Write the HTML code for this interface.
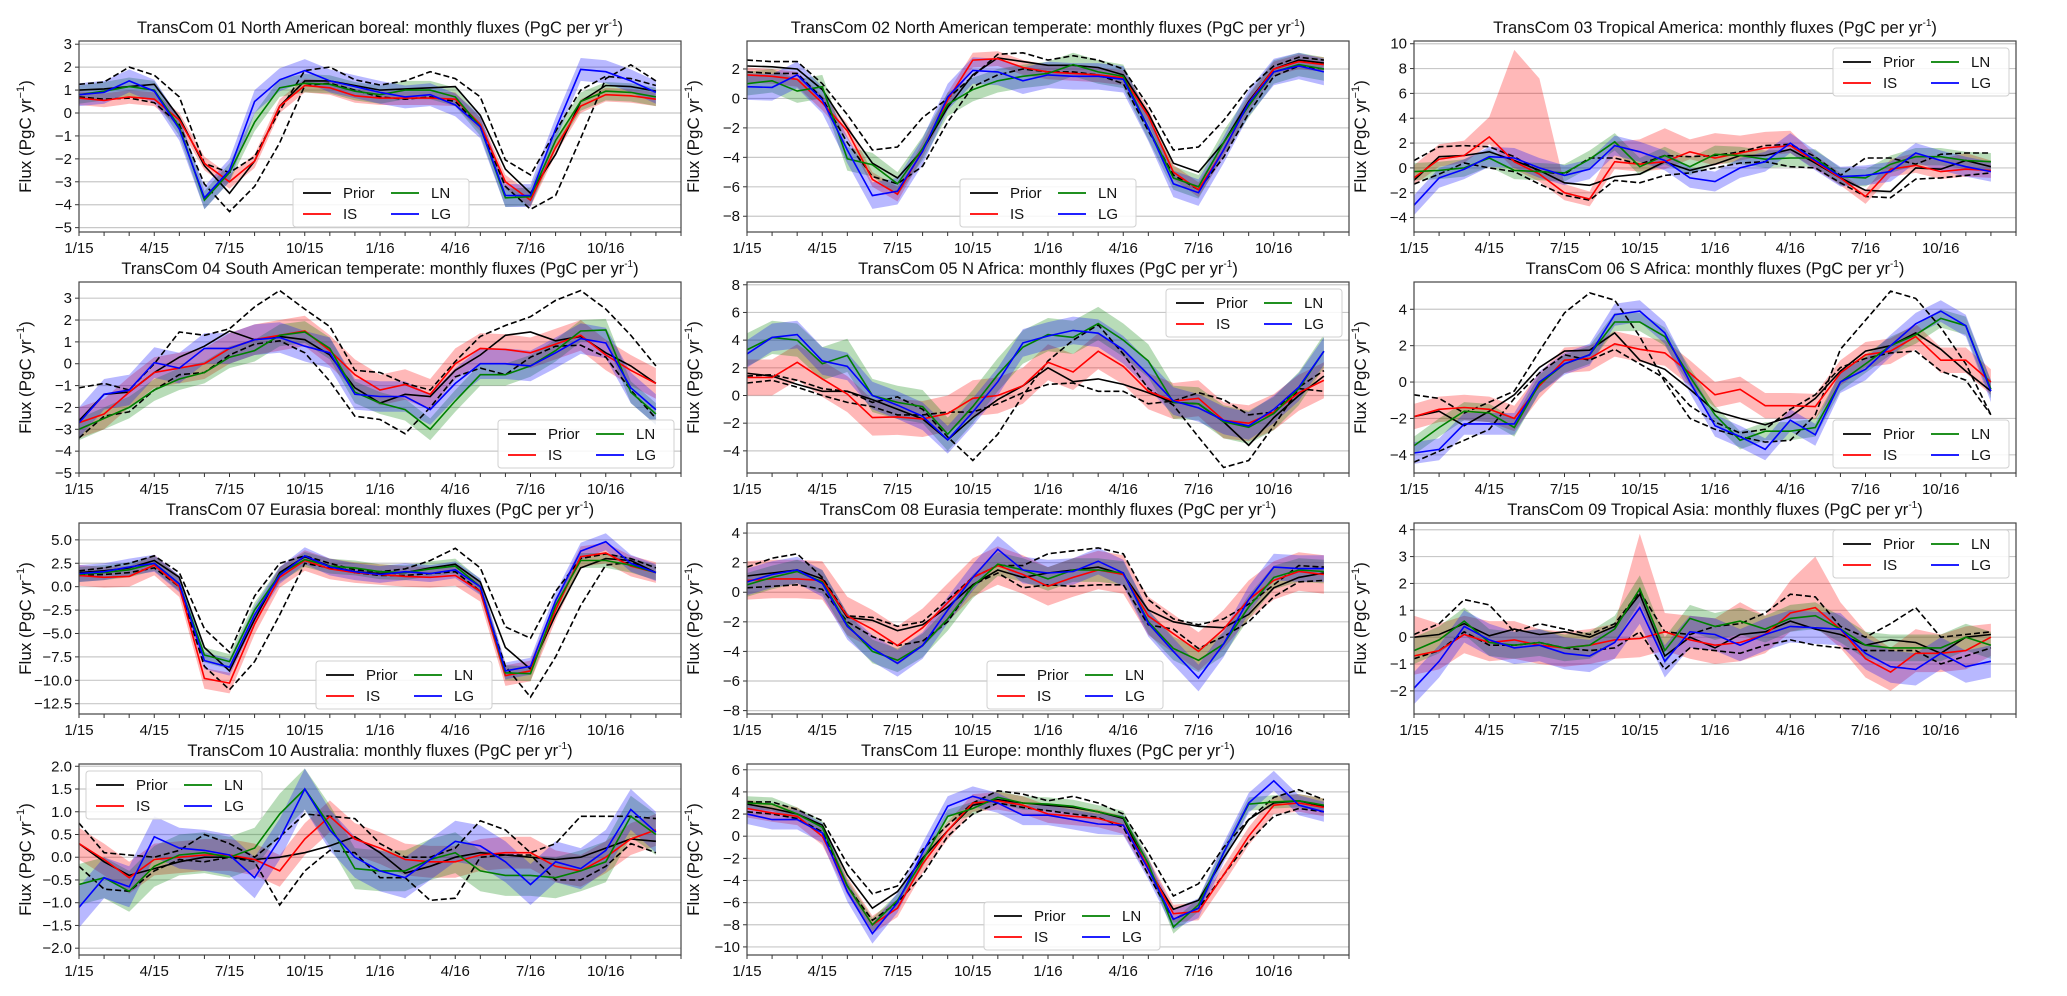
<!DOCTYPE html>
<html><head><meta charset="utf-8"><title>TransCom monthly fluxes</title>
<style>
html,body{margin:0;padding:0;background:#fff;}
svg{display:block;font-family:"Liberation Sans","DejaVu Sans",sans-serif;}
</style></head>
<body>
<svg id="fig" width="2067" height="996" viewBox="0 0 2067 996" xmlns="http://www.w3.org/2000/svg"></svg>
<script>
// ---------- shared axis data ----------
const xTickIdx = [0,3,6,9,12,15,18,21];
const xTickLabels = ['1/15','4/15','7/15','10/15','1/16','4/16','7/16','10/16'];

// ---------- P1 North American boreal ----------
const p1Prior=[1.0,1.05,1.15,1.25,-0.2,-2.3,-3.5,-2.1,0.3,1.4,1.4,1.2,1.0,1.05,1.1,1.15,-0.1,-2.45,-3.5,-1.8,0.5,1.2,1.15,0.95];
const p1DashA=[1.25,1.35,2.0,1.65,0.7,-2.2,-2.6,-1.9,0.1,1.85,2.0,1.45,1.22,1.4,1.8,1.5,0.7,-2.05,-2.7,-0.8,1.0,1.6,1.5,1.2];
const p1DashB=[0.7,0.6,0.65,0.45,-0.5,-3.1,-4.3,-3.2,-1.3,1.2,1.3,1.0,0.7,0.6,0.7,0.5,-0.6,-3.2,-4.2,-3.6,-1.1,1.5,2.1,1.4];
const p1IS=[0.65,0.55,0.7,0.6,-0.3,-2.2,-3.0,-2.1,0.3,1.2,1.1,0.75,0.65,0.65,0.65,0.6,-0.5,-3.0,-3.8,-1.5,0.3,0.8,0.75,0.6];
const p1LN=[0.8,0.95,1.15,1.0,-0.6,-3.8,-2.6,-0.4,1.1,1.3,1.25,0.95,0.8,1.0,1.0,0.7,-0.6,-3.7,-3.65,-1.2,0.5,0.95,0.9,0.7];
const p1LG=[0.8,0.9,1.4,0.95,-0.7,-3.7,-2.5,0.5,1.45,1.85,1.4,1.15,0.9,0.7,0.8,0.35,-0.6,-3.6,-3.6,-0.7,1.9,1.8,1.4,0.9];
const p1YTicks=[-5,-4,-3,-2,-1,0,1,2,3];
// ---------- P2 ----------
const p2Prior=[2.2,2.15,2.0,0.6,-2.0,-4.4,-5.4,-3.5,-0.6,1.6,2.75,2.5,2.25,2.25,2.1,1.6,-1.0,-4.4,-5.0,-3.0,-0.2,2.0,2.6,2.4];
const p2DashA=[2.6,2.5,2.5,1.0,-1.1,-3.5,-3.3,-1.3,0.0,1.5,3.0,3.1,2.6,2.9,2.6,2.0,-0.5,-3.5,-3.3,-1.5,0.7,2.2,2.8,2.6];
const p2DashB=[1.8,1.7,1.7,0.0,-3.0,-5.3,-5.8,-4.6,-1.6,0.8,1.6,2.0,1.8,1.8,1.6,1.0,-2.2,-5.2,-6.2,-4.0,-1.0,1.5,2.2,2.0];
const p2IS=[1.6,1.5,1.3,-0.3,-2.2,-5.5,-6.5,-3.5,-0.1,2.6,2.7,2.1,1.8,1.7,1.6,1.4,-1.2,-5.0,-6.2,-3.5,-0.3,2.0,2.5,2.3];
const p2LN=[1.0,1.2,0.5,0.8,-4.1,-4.5,-5.8,-3.4,-0.4,0.6,1.2,1.5,1.7,2.3,1.8,1.5,-2.0,-5.4,-6.0,-3.0,-0.5,1.8,2.3,2.0];
const p2LG=[0.8,0.75,1.6,-0.1,-3.5,-6.6,-6.3,-3.6,0.1,1.9,1.8,1.2,1.6,1.5,1.5,1.3,-2.0,-5.8,-6.4,-3.5,-0.3,1.8,2.2,1.8];
const p2YTicks=[-8,-6,-4,-2,0,2];
// ---------- P3 ----------
const p3Prior=[-1.0,0.9,1.0,1.3,0.6,-0.2,-1.2,-1.4,-0.7,-0.5,0.5,-0.2,0.3,1.0,1.0,1.5,0.4,-0.8,-1.8,-1.9,0.0,-0.1,0.6,0.1];
const p3DashA=[0.6,1.7,1.8,1.7,0.9,-0.3,-0.5,0.8,0.8,0.3,1.0,0.9,1.0,1.3,1.8,1.9,0.9,-0.6,0.8,0.8,0.3,1.1,1.2,1.2];
const p3DashB=[-1.3,-0.5,0.4,0.0,-0.3,-1.3,-2.2,-2.6,-1.0,-1.2,-0.6,-0.4,0.0,0.4,0.5,0.1,0.0,-1.2,-2.3,-2.4,-0.9,-0.8,-0.6,-0.4];
const p3IS=[-0.8,0.7,1.0,2.5,0.5,-0.5,-2.0,-2.5,0.5,0.3,0.5,1.3,0.8,1.2,1.6,1.8,0.5,-0.8,-2.3,-0.1,0.2,-0.3,-0.1,-0.2];
const p3ISUp=[1.0,1.2,1.2,1.6,9.0,7.7,0.7,0.6,1.6,2.0,2.7,1.0,2.0,1.4,1.3,1.2,0.5,0.4,0.5,0.8,1.0,1.0,1.3,0.8];
const p3LN=[-0.3,-0.2,0.0,0.8,-0.2,-0.3,-0.4,0.7,2.1,0.1,1.0,0.1,1.1,1.0,0.7,0.8,0.8,-0.7,-0.8,0.3,0.9,0.9,0.6,0.5];
const p3LG=[-3.0,-0.8,-0.1,0.9,0.8,0.0,-0.6,-0.1,1.8,1.3,0.6,-0.8,-1.1,0.0,0.5,2.0,0.6,-0.7,-0.6,-0.3,1.2,0.6,0.1,-0.3];
const p3YTicks=[-4,-2,0,2,4,6,8,10];
// ---------- P4 ----------
const p4Prior=[-2.6,-1.4,-1.3,-0.4,0.3,0.8,1.5,1.1,1.25,1.1,0.4,-1.1,-1.8,-1.4,-1.5,-0.3,0.4,1.3,1.45,1.05,1.25,0.5,-0.1,-0.9];
const p4DashA=[-1.1,-0.9,-1.2,0.0,1.45,1.3,1.6,2.6,3.35,2.5,1.7,-0.3,-0.4,-0.9,-1.2,0.1,1.25,1.75,2.15,2.9,3.35,2.5,1.3,-0.1];
const p4DashB=[-3.4,-2.4,-2.2,-1.2,-0.5,-0.4,0.4,0.9,1.05,0.5,-0.8,-2.4,-2.55,-3.2,-2.0,-0.6,-0.2,-0.5,0.3,0.8,0.85,0.3,-1.2,-2.5];
const p4IS=[-2.7,-2.3,-1.3,-0.4,-0.2,0.0,0.7,1.1,1.3,1.5,0.6,-0.5,-1.2,-0.95,-1.4,0.0,0.7,0.65,0.5,0.9,1.3,0.4,-0.3,-0.9];
const p4LN=[-3.0,-2.5,-2.0,-1.2,-0.7,-0.4,0.3,0.6,1.3,1.45,0.7,-1.3,-1.8,-2.1,-3.0,-1.7,-0.5,-0.5,-0.1,0.6,1.5,1.55,-1.3,-2.3];
const p4LG=[-2.7,-1.4,-1.2,0.05,-0.2,0.7,0.7,1.1,1.2,0.8,0.5,-1.4,-1.5,-1.5,-2.1,-0.9,0.0,0.0,-0.1,0.5,1.15,0.95,-1.1,-2.1];
const p4YTicks=[-5,-4,-3,-2,-1,0,1,2,3];
// ---------- P5 ----------
const p5Prior=[1.6,1.4,0.8,0.3,0.3,-0.3,-1.0,-1.7,-3.2,-1.6,-0.3,0.7,2.0,1.0,1.2,0.8,0.2,-0.5,-0.6,-1.9,-3.6,-1.6,0.0,1.4];
const p5DashA=[0.9,1.1,0.6,0.0,-0.5,-0.8,-1.4,-1.4,-1.2,-1.2,-0.6,0.2,0.8,0.9,0.3,0.3,-0.6,-0.4,0.2,-0.3,-1.4,-1.2,0.6,1.8];
const p5DashB=[1.4,1.5,1.1,0.5,0.3,-0.5,-0.1,-1.0,-3.0,-4.7,-2.8,0.0,2.5,4.0,5.1,3.0,0.5,-0.7,-3.0,-5.2,-4.7,-2.2,0.5,0.3];
const p5IS=[1.3,1.3,2.4,1.2,0.1,-1.6,-1.55,-1.7,-1.3,-0.2,0.0,0.7,2.4,1.7,3.2,2.1,0.3,-0.4,-0.2,-1.8,-2.0,-1.2,0.2,1.1];
const p5LN=[3.3,4.2,4.0,2.3,2.9,0.0,-0.5,-0.8,-2.8,-0.8,1.5,3.5,4.4,4.2,5.2,4.0,2.5,-0.5,-0.6,-1.9,-2.3,-1.3,0.5,3.2];
const p5LG=[3.0,4.2,4.4,2.5,2.1,0.0,-0.7,-1.5,-3.2,-1.2,1.0,3.8,4.3,4.7,4.5,3.3,1.5,-0.4,-0.9,-1.8,-2.2,-1.0,0.6,3.2];
const p5YTicks=[-4,-2,0,2,4,6,8];
// ---------- P6 ----------
const p6Prior=[-1.9,-1.6,-2.4,-1.6,-0.7,0.8,1.7,1.75,2.7,1.2,0.7,-0.4,-1.6,-2.0,-2.35,-1.9,-0.9,0.6,1.7,2.0,2.7,1.8,0.6,-0.5];
const p6DashA=[-0.7,-0.9,-1.7,-1.1,-0.5,1.7,3.8,4.9,4.5,2.5,0.0,-2.0,-2.6,-3.0,-3.3,-3.2,-1.8,1.8,3.4,5.0,4.6,3.0,1.0,-1.8];
const p6DashB=[-4.4,-3.8,-3.2,-2.6,-0.9,0.5,1.5,1.2,1.8,1.0,0.2,-1.3,-2.2,-2.8,-2.6,-1.5,-0.7,0.8,1.3,1.6,1.7,0.6,0.1,-1.8];
const p6IS=[-1.9,-1.5,-1.4,-1.5,-2.0,-0.2,1.2,1.3,2.1,1.8,1.6,0.5,-0.7,-0.4,-1.3,-1.3,-1.35,0.5,1.5,1.7,2.5,1.2,1.2,0.0];
const p6LN=[-3.5,-2.5,-1.6,-1.7,-2.5,-0.1,1.0,1.5,3.3,3.3,2.5,0.3,-1.8,-3.2,-2.7,-2.7,-2.5,0.0,1.0,2.0,2.6,3.5,3.1,-0.4];
const p6LG=[-3.9,-3.7,-2.3,-2.3,-2.3,0.0,1.0,1.5,3.7,3.9,2.7,0.0,-2.4,-3.0,-3.7,-2.1,-2.9,0.0,0.7,2.0,3.2,3.9,3.1,-0.5];
const p6YTicks=[-4,-2,0,2,4];
// ---------- P7 ----------
const p7Prior=[1.5,1.7,2.0,2.8,1.0,-6.5,-9.0,-3.5,1.5,3.2,2.2,1.6,1.4,1.5,2.0,2.4,0.5,-6.5,-8.8,-3.0,2.0,3.0,2.8,1.5];
const p7DashA=[1.7,2.0,2.5,3.3,1.5,-4.5,-7.0,-1.0,2.5,3.3,2.5,1.8,1.6,1.9,2.8,4.1,2.0,-4.3,-5.5,-0.5,3.0,3.5,3.0,2.0];
const p7DashB=[1.2,1.3,1.5,2.0,0.0,-8.5,-11.0,-8.0,-3.0,2.5,2.0,1.5,1.2,1.2,1.4,1.6,-0.5,-8.5,-11.8,-7.5,-2.0,2.3,2.6,1.5];
const p7IS=[1.2,1.0,1.1,2.3,0.0,-9.8,-10.3,-4.0,1.0,2.8,1.9,1.5,1.3,1.1,1.0,1.2,-0.5,-9.5,-9.0,-2.5,3.2,3.6,2.2,1.5];
const p7LN=[1.3,1.5,1.8,2.5,0.3,-7.3,-8.0,-2.5,1.3,2.9,2.2,2.0,1.6,1.5,1.9,2.2,0.0,-9.2,-9.3,-2.0,2.8,2.8,2.3,1.5];
const p7LG=[1.4,1.6,2.1,2.5,0.3,-7.9,-8.6,-3.0,1.2,3.3,2.1,1.6,1.3,1.6,1.4,1.8,0.0,-9.0,-8.5,-1.5,3.8,4.8,2.5,1.5];
const p7YTicks=[-12.5,-10,-7.5,-5,-2.5,0,2.5,5];
// ---------- P8 ----------
const p8Prior=[1.1,1.3,1.5,0.9,-1.7,-1.9,-2.6,-2.2,-1.0,0.5,1.5,1.0,1.3,1.5,1.7,1.2,-1.2,-2.0,-2.3,-2.4,-1.5,0.3,1.0,1.3];
const p8DashA=[1.7,2.3,2.6,1.0,-1.6,-1.7,-2.3,-2.0,-0.5,1.0,1.8,1.8,2.6,2.8,3.0,2.6,-0.5,-1.8,-2.2,-1.8,-0.8,0.5,1.8,1.7];
const p8DashB=[0.3,0.4,0.5,0.2,-2.0,-3.0,-3.6,-3.3,-2.0,0.5,1.3,0.3,0.5,0.4,0.5,0.5,-2.2,-2.5,-3.8,-3.0,-2.0,-0.3,0.7,0.8];
const p8IS=[0.8,0.9,0.9,0.8,-1.6,-2.5,-3.6,-2.4,-0.7,1.0,1.8,1.2,0.4,1.0,1.5,1.2,-1.6,-2.8,-4.0,-2.5,-0.5,0.8,1.4,1.2];
const p8LN=[0.5,1.0,1.4,0.7,-2.2,-4.0,-4.6,-3.6,-1.8,0.4,1.9,1.5,0.9,1.5,1.5,1.3,-2.0,-3.8,-4.6,-3.5,-1.0,1.0,1.5,1.4];
const p8LG=[0.7,1.2,1.5,0.6,-2.3,-3.8,-4.8,-3.6,-1.2,1.0,2.9,1.5,1.3,1.4,2.1,1.3,-2.1,-4.0,-5.8,-3.5,-0.5,1.7,1.6,1.6];
const p8YTicks=[-8,-6,-4,-2,0,2,4];
// ---------- P9 ----------
const p9Prior=[0.0,0.1,0.5,0.05,0.3,0.1,0.2,0.0,0.4,1.6,-0.7,0.0,-0.4,0.1,0.2,0.6,0.3,0.1,-0.3,-0.1,-0.2,-0.6,0.0,0.1];
const p9DashA=[0.1,0.5,1.4,1.2,0.2,0.5,0.3,0.1,0.5,1.7,0.2,0.1,0.4,0.5,0.9,1.6,1.5,0.4,0.0,0.5,1.1,0.0,0.1,0.2];
const p9DashB=[-0.8,-0.5,0.2,-0.3,-0.3,-0.2,-0.4,-0.5,-0.4,0.2,-1.2,-0.4,-0.5,-0.6,-0.3,-0.1,-0.3,-0.4,-0.5,-0.5,-0.5,-1.0,-0.7,-0.4];
const p9IS=[-0.7,-0.5,0.1,-0.2,-0.1,-0.3,-0.4,-0.3,-0.1,-0.05,0.2,-0.1,-0.3,-0.2,0.1,0.9,1.1,0.3,-0.8,-1.3,-0.6,-0.6,-0.5,0.0];
const p9ISUp=[1.5,1.0,0.7,0.8,0.7,0.6,0.6,0.6,0.6,3.9,0.7,0.9,1.0,1.5,0.7,1.2,1.9,1.0,1.0,0.9,0.9,0.7,0.9,0.5];
const p9LN=[-0.5,-0.1,0.6,-0.2,-0.3,-0.2,-0.4,-0.3,0.3,1.8,-0.5,0.7,0.4,0.6,0.3,0.7,0.8,0.3,-0.3,-0.4,-0.4,-0.4,0.0,-0.3];
const p9LG=[-1.9,-0.9,0.4,-0.1,-0.4,-0.3,-0.6,-0.7,-0.2,1.1,-0.9,0.2,0.1,-0.3,0.1,0.4,0.35,0.3,-0.6,-1.1,-1.2,-0.6,-1.1,-0.9];
const p9YTicks=[-2,-1,0,1,2,3,4];
// ---------- P10 ----------
const p10Prior=[0.3,-0.1,-0.4,-0.25,-0.1,0.0,0.0,-0.05,0.0,0.1,0.25,0.45,0.1,-0.35,-0.2,0.0,0.1,0.05,0.0,-0.05,0.0,0.2,0.4,0.35];
const p10DashA=[0.75,0.1,0.05,0.0,0.15,0.5,0.3,0.0,0.45,0.95,0.9,0.85,0.3,0.0,0.0,0.2,0.8,0.6,0.1,0.3,0.9,0.9,0.9,0.85];
const p10DashB=[-0.2,-0.7,-0.75,-0.3,-0.05,-0.1,0.0,-0.1,-1.05,-0.3,0.15,0.1,-0.45,-0.45,-0.95,-0.9,0.0,0.05,0.05,-0.5,-0.5,-0.2,0.3,0.1];
const p10IS=[0.3,-0.05,-0.45,-0.05,0.0,0.05,0.05,-0.05,-0.3,0.4,0.9,0.4,0.2,-0.05,-0.1,-0.1,0.05,0.1,0.1,-0.2,-0.3,0.0,0.4,0.6];
const p10LN=[-0.6,-0.45,-0.75,-0.2,0.05,0.1,0.0,0.2,0.95,1.5,0.7,-0.25,-0.3,-0.3,-0.05,0.1,-0.3,-0.4,-0.4,-0.45,-0.3,-0.1,0.9,0.5];
const p10LG=[-1.1,-0.45,-0.65,0.45,0.2,0.15,0.05,-0.45,0.4,1.5,0.6,0.0,-0.3,-0.45,-0.05,0.35,0.25,-0.1,-0.6,-0.1,-0.25,0.15,1.05,0.55];
const p10YTicks=[-2,-1.5,-1,-0.5,0,0.5,1,1.5,2];
// ---------- P11 ----------
const p11Prior=[2.9,2.5,2.0,1.0,-3.5,-6.5,-5.0,-2.0,0.5,2.8,3.3,3.0,2.8,2.6,2.2,1.6,-3.0,-6.6,-5.8,-2.0,1.5,3.0,3.2,2.7];
const p11DashA=[3.1,3.1,2.4,1.4,-2.5,-5.2,-4.5,-1.2,1.0,3.0,4.1,3.8,3.2,3.6,3.0,2.0,-1.5,-5.4,-4.3,-1.0,1.5,3.5,4.2,3.3];
const p11DashB=[2.2,2.0,1.6,0.4,-4.5,-7.6,-6.0,-3.5,0.0,2.0,3.0,2.6,2.3,2.0,1.7,0.8,-3.5,-7.5,-6.5,-3.5,-0.5,1.8,2.5,2.2];
const p11IS=[2.5,2.1,1.8,0.0,-4.5,-8.0,-6.5,-2.5,0.5,3.0,3.2,2.8,2.0,1.8,1.6,1.0,-2.8,-7.0,-6.8,-3.5,0.0,2.8,3.0,2.6];
const p11LN=[3.0,2.9,2.0,0.8,-4.5,-8.0,-5.8,-2.2,1.8,2.5,3.5,3.0,2.9,2.7,2.2,1.7,-2.5,-8.2,-6.2,-1.5,2.9,3.1,3.2,2.8];
const p11LG=[2.0,1.5,1.5,0.3,-5.0,-8.8,-6.0,-1.5,2.7,3.6,3.0,1.9,1.9,1.5,1.1,1.0,-3.0,-7.5,-6.5,-1.5,3.0,5.0,2.8,2.2];
const p11YTicks=[-10,-8,-6,-4,-2,0,2,4,6];

const NS='http://www.w3.org/2000/svg';
const svg=document.getElementById('fig');
function mk(tag,attrs,parent){const e=document.createElementNS(NS,tag);for(const k in attrs)e.setAttribute(k,attrs[k]);(parent||svg).appendChild(e);return e;}
const AW=602, AH=191;
const colX=[79,747,1414], rowY=[41,282,523,764];

const panels=[
 {id:1,title:'TransCom 01 North American boreal: monthly fluxes',c:0,r:0,ylim:[-5.19,3.14],ticks:p1YTicks,prior:p1Prior,dA:p1DashA,dB:p1DashB,is:p1IS,ln:p1LN,lg:p1LG,w:[0.3,0.4,0.5],leg:'bc',legX:214,dec:0},
 {id:2,title:'TransCom 02 North American temperate: monthly fluxes',c:1,r:0,ylim:[-9.07,3.9],ticks:p2YTicks,prior:p2Prior,dA:p2DashA,dB:p2DashB,is:p2IS,ln:p2LN,lg:p2LG,w:[0.5,0.8,0.9],leg:'bc',legX:213,dec:0},
 {id:3,title:'TransCom 03 Tropical America: monthly fluxes',c:2,r:0,ylim:[-5.16,10.22],ticks:p3YTicks,prior:p3Prior,dA:p3DashA,dB:p3DashB,is:p3IS,isUp:p3ISUp,ln:p3LN,lg:p3LG,w:[0.6,0.7,0.8],leg:'tr',dec:0},
 {id:4,title:'TransCom 04 South American temperate: monthly fluxes',c:0,r:1,ylim:[-5.0,3.74],ticks:p4YTicks,prior:p4Prior,dA:p4DashA,dB:p4DashB,is:p4IS,ln:p4LN,lg:p4LG,w:[0.7,0.5,0.7],leg:'br',dec:0},
 {id:5,title:'TransCom 05 N Africa: monthly fluxes',c:1,r:1,ylim:[-5.6,8.2],ticks:p5YTicks,prior:p5Prior,dA:p5DashA,dB:p5DashB,is:p5IS,ln:p5LN,lg:p5LG,w:[1.3,1.2,1.0],leg:'tr',dec:0},
 {id:6,title:'TransCom 06 S Africa: monthly fluxes',c:2,r:1,ylim:[-5.0,5.5],ticks:p6YTicks,prior:p6Prior,dA:p6DashA,dB:p6DashB,is:p6IS,ln:p6LN,lg:p6LG,w:[0.7,0.5,0.6],leg:'br',dec:0},
 {id:7,title:'TransCom 07 Eurasia boreal: monthly fluxes',c:0,r:2,ylim:[-13.6,6.8],ticks:p7YTicks,prior:p7Prior,dA:p7DashA,dB:p7DashB,is:p7IS,ln:p7LN,lg:p7LG,w:[1.1,0.8,0.9],leg:'bc',legX:237,dec:1},
 {id:8,title:'TransCom 08 Eurasia temperate: monthly fluxes',c:1,r:2,ylim:[-8.23,4.68],ticks:p8YTicks,prior:p8Prior,dA:p8DashA,dB:p8DashB,is:p8IS,ln:p8LN,lg:p8LG,w:[1.3,0.8,0.9],leg:'bc',legX:240,dec:0},
 {id:9,title:'TransCom 09 Tropical Asia: monthly fluxes',c:2,r:2,ylim:[-2.86,4.25],ticks:p9YTicks,prior:p9Prior,dA:p9DashA,dB:p9DashB,is:p9IS,isUp:p9ISUp,ln:p9LN,lg:p9LG,w:[0.7,0.5,0.6],leg:'tr',dec:0},
 {id:10,title:'TransCom 10 Australia: monthly fluxes',c:0,r:3,ylim:[-2.15,2.05],ticks:p10YTicks,prior:p10Prior,dA:p10DashA,dB:p10DashB,is:p10IS,ln:p10LN,lg:p10LG,w:[0.35,0.45,0.45],leg:'tl',dec:1},
 {id:11,title:'TransCom 11 Europe: monthly fluxes',c:1,r:3,ylim:[-10.73,6.52],ticks:p11YTicks,prior:p11Prior,dA:p11DashA,dB:p11DashB,is:p11IS,ln:p11LN,lg:p11LG,w:[0.8,0.6,0.9],leg:'bc',legX:237,dec:0}
];

function fmt(v,dec){const s=Math.abs(v).toFixed(dec);return (v<0?'\u2212':'')+s;}
function wAt(w,i){return Array.isArray(w)?w[i]:w;}

panels.forEach(p=>{
  const x0=colX[p.c], y0=rowY[p.r];
  const g=mk('g',{});
  
  
  const xs=i=>x0+i*AW/24;
  const ys=v=>y0+AH*(p.ylim[1]-v)/(p.ylim[1]-p.ylim[0]);
  const cp=mk('clipPath',{id:'clip'+p.id},g);
  mk('rect',{x:x0,y:y0,width:AW,height:AH},cp);
  p.ticks.forEach(t=>{
    const gl=mk('line',{x1:x0,x2:x0+AW,y1:ys(t),y2:ys(t),stroke:'#c8c8c8','stroke-width':1.2},g);
    
    
    const tl=mk('text',{x:x0-7,y:ys(t)+5,'text-anchor':'end','font-size':15,fill:'#111'},g);
    tl.textContent=fmt(t,p.dec);
    
    
    mk('line',{x1:x0-4,x2:x0,y1:ys(t),y2:ys(t),stroke:'#333'},g);
  });
  const plot=mk('g',{'clip-path':'url(#clip'+p.id+')'},g);
  const series=[['is','#ff0000',0],['ln','#008000',1],['lg','#0000ff',2]];
  series.forEach(([k,col,wi])=>{
    const v=p[k]; const up=(k==='is'&&p.isUp)?p.isUp:p.w[wi];
    let d='';
    v.forEach((y,i)=>{d+=(i?'L':'M')+xs(i).toFixed(1)+','+ys(y+wAt(up,i)).toFixed(1);});
    for(let i=v.length-1;i>=0;i--) d+='L'+xs(i).toFixed(1)+','+ys(v[i]-wAt(p.w[wi],i)).toFixed(1);
    const b=mk('path',{d:d+'Z',fill:col,'fill-opacity':0.28,stroke:'none'},plot);
    
    
  });
  const line=(arr,col,dash,name)=>{
    const pts=arr.map((y,i)=>xs(i).toFixed(1)+','+ys(y).toFixed(1)).join(' ');
    const l=mk('polyline',{points:pts,fill:'none',stroke:col,'stroke-width':1.6,'stroke-dasharray':dash||'none'},plot);
    
    
  };
  line(p.dA,'#000','6,3','prior-bound-line');
  line(p.dB,'#000','6,3','prior-bound-line');
  line(p.prior,'#000',null,'prior-line');
  line(p.is,'#ff0000',null,'is-line');
  line(p.ln,'#008000',null,'ln-line');
  line(p.lg,'#0000ff',null,'lg-line');
  const fr=mk('rect',{x:x0,y:y0,width:AW,height:AH,fill:'none',stroke:'#444','stroke-width':1.2},g);
  
  
  for(let i=0;i<=24;i++){
    mk('line',{x1:xs(i),x2:xs(i),y1:y0+AH,y2:y0+AH+4,stroke:'#333'},g);
  }
  xTickIdx.forEach((ti,j)=>{
    const t=mk('text',{x:xs(ti),y:y0+AH+21,'text-anchor':'middle','font-size':15,fill:'#111'},g);
    t.textContent=xTickLabels[j];
    
    
  });
  const tt=mk('text',{x:x0+AW/2,y:y0-8,'text-anchor':'middle','font-size':16.5,fill:'#111'},g);
  tt.innerHTML=p.title+' (PgC per yr<tspan font-size="10" dy="-7">-1</tspan><tspan dy="7">)</tspan>';
  
  
  const yl=mk('text',{x:0,y:0,'text-anchor':'middle','font-size':17,fill:'#111',transform:'translate('+(x0-48)+','+(y0+AH/2)+') rotate(-90)'},g);
  yl.innerHTML='Flux (PgC yr<tspan font-size="11" dy="-7">\u22121</tspan><tspan dy="7">)</tspan>';
  
  
  const LW=176, LH=48;
  let lx,ly;
  if(p.leg==='bc'){lx=x0+p.legX;ly=y0+AH-LH-5;}
  else if(p.leg==='tr'){lx=x0+AW-LW-7;ly=y0+7;}
  else if(p.leg==='br'){lx=x0+AW-LW-7;ly=y0+AH-LH-5;}
  else {lx=x0+7;ly=y0+7;}
  const lg=mk('g',{},g);
  
  
  mk('rect',{x:lx,y:ly,width:LW,height:LH,rx:3,fill:'#fff','fill-opacity':0.85,stroke:'#d0d0d0'},lg);
  const ents=[['Prior','#000',0,0],['IS','#ff0000',0,1],['LN','#008000',1,0],['LG','#0000ff',1,1]];
  ents.forEach(([lab,col,cx,ry])=>{
    const ex=lx+10+cx*88, ey=ly+14+ry*21;
    const eg=mk('g',{},lg);
    
    
    mk('line',{x1:ex,x2:ex+28,y1:ey,y2:ey,stroke:col,'stroke-width':1.8},eg);
    const t=mk('text',{x:ex+40,y:ey+5,'font-size':15,fill:'#111'},eg);
    t.textContent=lab;
  });
});
</script>
</body></html>
